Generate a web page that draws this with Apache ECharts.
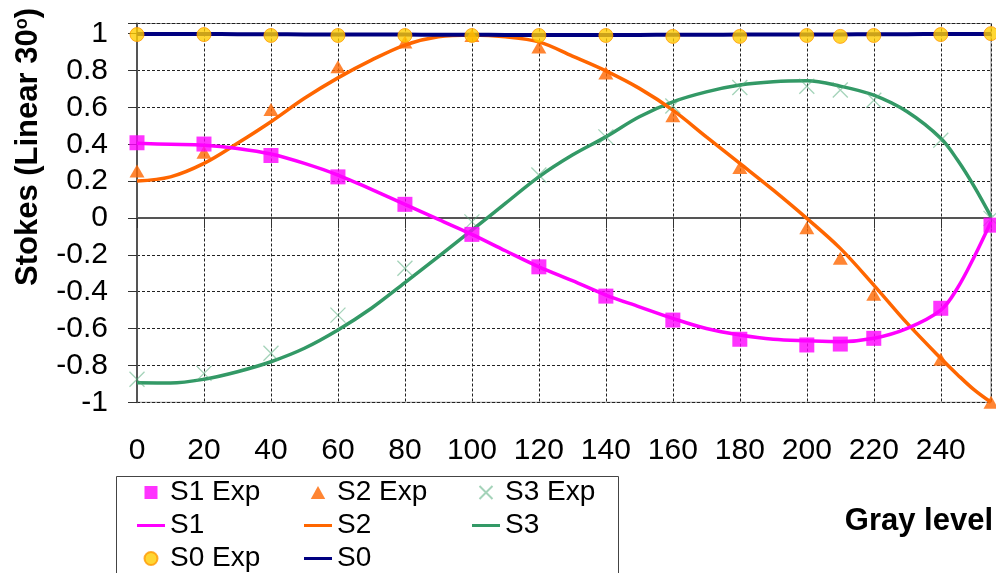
<!DOCTYPE html>
<html>
<head>
<meta charset="utf-8">
<script src="https://cdn.jsdelivr.net/npm/echarts@6/dist/echarts.min.js"></script>
<style>
  html, body { margin: 0; padding: 0; background: #fff; }
  #chart { width: 996px; height: 573px; }
</style>
</head>
<body>
<div id="chart"></div>
<script>
// Measured gray levels
const expX = [0, 20, 40, 60, 80, 100, 120, 140, 160, 180, 200, 210, 220, 240, 255];
const s1Exp = [0.408, 0.401, 0.339, 0.223, 0.074, -0.089, -0.265, -0.424, -0.554, -0.658, -0.689, -0.684, -0.653, -0.490, -0.039];
const s2Exp = [0.255, 0.356, 0.589, 0.820, 0.955, 0.990, 0.928, 0.787, 0.554, 0.274, -0.053, -0.219, -0.414, -0.767, -1.000];
const s3Exp = [-0.875, -0.843, -0.734, -0.527, -0.273, -0.021, 0.233, 0.440, 0.607, 0.708, 0.715, 0.694, 0.639, 0.422, -0.002];
const s0Exp = [0.995, 0.995, 0.990, 0.990, 0.990, 0.990, 0.990, 0.990, 0.985, 0.985, 0.990, 0.985, 0.990, 0.995, 1.000];

// Model curves
const fitX = [0, 10, 20, 30, 40, 50, 60, 70, 80, 90, 100, 110, 120, 130, 140, 150, 160, 170, 180, 190, 200, 210, 220, 230, 240, 245, 250, 255];
const s1Fit = [0.405, 0.400, 0.395, 0.377, 0.347, 0.296, 0.233, 0.155, 0.074, -0.008, -0.089, -0.178, -0.265, -0.340, -0.418, -0.482, -0.545, -0.600, -0.635, -0.658, -0.666, -0.671, -0.653, -0.599, -0.500, -0.380, -0.210, -0.020];
const s2Fit = [0.200, 0.223, 0.296, 0.405, 0.522, 0.649, 0.760, 0.856, 0.938, 0.983, 0.992, 0.983, 0.955, 0.878, 0.798, 0.703, 0.585, 0.440, 0.296, 0.151, -0.002, -0.165, -0.364, -0.572, -0.761, -0.850, -0.933, -1.000];
const s3Fit = [-0.894, -0.895, -0.875, -0.834, -0.780, -0.707, -0.608, -0.490, -0.351, -0.210, -0.066, 0.079, 0.223, 0.341, 0.440, 0.549, 0.630, 0.684, 0.721, 0.739, 0.744, 0.715, 0.666, 0.576, 0.432, 0.314, 0.170, 0.007];
const s0Fit = [0.998, 0.998, 0.998, 0.997, 0.997, 0.996, 0.996, 0.995, 0.995, 0.994, 0.994, 0.993, 0.993, 0.993, 0.993, 0.993, 0.994, 0.994, 0.995, 0.995, 0.996, 0.996, 0.997, 0.997, 0.998, 0.998, 0.998, 0.998];

const xTicks = [0, 20, 40, 60, 80, 100, 120, 140, 160, 180, 200, 220, 240];

const pair = (xs, ys) => xs.map((x, i) => [x, ys[i]]);

const FONT = 'Liberation Sans, Arial, sans-serif';
const C1 = '#ff00ff', C2 = '#ff6600', C3 = '#339966', C0 = '#000080';

// Legend icons
const ICON_LINE = 'path://M0,0H30V3.2H0Z';
const ICON_SQUARE = 'path://M0,0H10V10H0Z';
const ICON_TRIANGLE = 'path://M5,0L10,9L0,9Z';
const CROSS = 'path://M0,0L10,10M10,0L0,10';

const chart = echarts.init(document.getElementById('chart'), null, { renderer: 'canvas' });

const lineSeries = (name, ys, color, width) => ({
  name, type: 'line', data: pair(fitX, ys), smooth: 0.35, symbol: 'none',
  lineStyle: { color, width }, itemStyle: { color }, z: 2
});

const legendBase = {
  orient: 'vertical', padding: 0, itemGap: 0, itemWidth: 28, itemHeight: 13, height: 120,
  symbolKeepAspect: true,
  textStyle: { fontFamily: FONT, fontSize: 28, color: '#000', lineHeight: 33 },
  top: 476
};

chart.setOption({
  animation: false,
  backgroundColor: '#fff',
  grid: { left: 137, right: 5, top: 23.5, bottom: 170.7, show: true, borderColor: '#888', borderWidth: 1, backgroundColor: 'transparent' },
  xAxis: {
    type: 'value', min: 0, max: 255, interval: 20,
    axisLine: { lineStyle: { color: '#555', width: 2 } },
    axisTick: { show: true, length: 10, lineStyle: { color: '#333', width: 1 } },
    axisLabel: {
      fontFamily: FONT, fontSize: 30, color: '#000', margin: 33,
      formatter: v => (xTicks.indexOf(v) >= 0 ? String(v) : '')
    },
    splitLine: { show: true, lineStyle: { color: '#222', type: [3, 2], width: 1 } }
  },
  yAxis: {
    type: 'value', min: -1, max: 1.055, interval: 0.2,
    axisLine: { show: true, lineStyle: { color: '#555', width: 2 } },
    axisTick: { show: true, length: 9, lineStyle: { color: '#333', width: 1 } },
    axisLabel: {
      fontFamily: FONT, fontSize: 30, color: '#000', margin: 29,
      formatter: v => {
        const k = v * 5;
        if (Math.abs(k - Math.round(k)) > 1e-6) return '';
        const r = Math.round(k) / 5;
        return String(Number(r.toFixed(1)));
      }
    },
    splitLine: { show: true, lineStyle: { color: '#222', type: [3, 2], width: 1 } }
  },
  legend: [
    Object.assign({}, legendBase, { left: 137, data: [
      { name: 'S1 Exp', icon: ICON_SQUARE },
      { name: 'S1', icon: ICON_LINE },
      { name: 'S0 Exp', icon: 'circle' }
    ] }),
    Object.assign({}, legendBase, { left: 304, data: [
      { name: 'S2 Exp', icon: ICON_TRIANGLE },
      { name: 'S2', icon: ICON_LINE },
      { name: 'S0', icon: ICON_LINE }
    ] }),
    Object.assign({}, legendBase, { left: 472, data: [
      { name: 'S3 Exp', icon: CROSS },
      { name: 'S3', icon: ICON_LINE }
    ] })
  ],
  graphic: [
    {
      type: 'rect', left: 114, top: 474, silent: true, z: 0,
      shape: { width: 502, height: 130 },
      style: { fill: 'none', stroke: '#444', lineWidth: 1 }
    },
    {
      type: 'text', silent: true, rotation: Math.PI / 2, x: 13, y: 147,
      style: {
        text: '{a|Stokes (Linear 30}{s|o}{a|)}',
        align: 'center', verticalAlign: 'top',
        rich: {
          a: { fontFamily: FONT, fontSize: 31, fontWeight: 'bold', fill: '#000' },
          s: { fontFamily: FONT, fontSize: 18, fontWeight: 'bold', fill: '#000', verticalAlign: 'top', padding: [0, 0, 12, 0] }
        }
      }
    },
    {
      type: 'text', silent: true, right: 3, top: 506,
      style: { text: 'Gray level', fontFamily: FONT, fontSize: 31, fontWeight: 'bold', fill: '#000' }
    }
  ],
  series: [
    lineSeries('S3', s3Fit, C3, 3.5),
    lineSeries('S2', s2Fit, C2, 3.5),
    lineSeries('S1', s1Fit, C1, 3.5),
    lineSeries('S0', s0Fit, C0, 4),
    {
      name: 'S3 Exp', type: 'scatter', data: pair(expX, s3Exp),
      symbol: CROSS, symbolSize: 15,
      itemStyle: { color: 'rgba(0,0,0,0)', borderColor: 'rgba(80,170,120,0.65)', borderWidth: 1.3 },
      z: 3
    },
    {
      name: 'S2 Exp', type: 'scatter', data: pair(expX, s2Exp),
      symbol: 'triangle', symbolSize: [15, 13],
      itemStyle: { color: C2 }, z: 3
    },
    {
      name: 'S1 Exp', type: 'scatter', data: pair(expX, s1Exp),
      symbol: 'rect', symbolSize: 15,
      itemStyle: { color: C1 }, z: 4
    },
    {
      name: 'S0 Exp', type: 'scatter', data: pair(expX, s0Exp),
      symbol: 'circle', symbolSize: 14,
      itemStyle: { color: '#ffcc00', borderColor: '#ff9900', borderWidth: 1 }, z: 5
    }
  ]
});
</script>
</body>
</html>
